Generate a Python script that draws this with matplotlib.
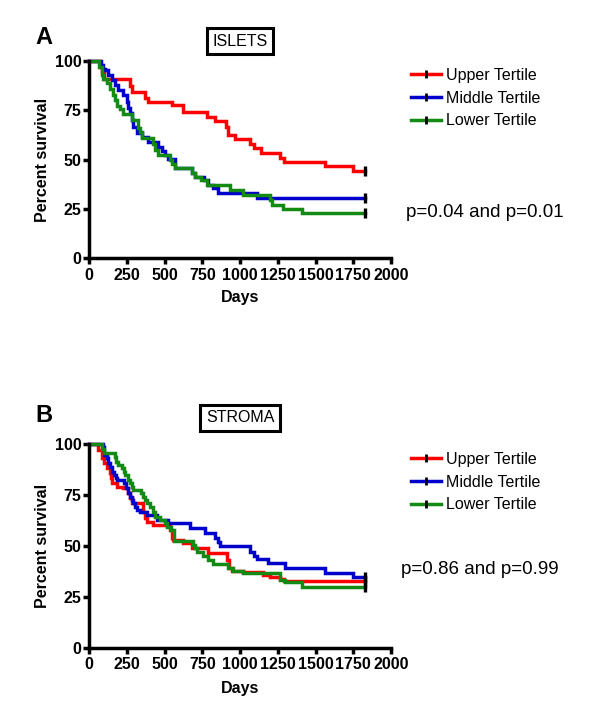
import matplotlib
matplotlib.use('Agg')
import matplotlib.pyplot as plt
from matplotlib.lines import Line2D

plt.rcParams['font.family'] = ['Liberation Sans', 'DejaVu Sans']

# Kaplan-Meier steps: day of each drop and survival (%) after it
FOLLOW_UP = 1825
labels = ['Upper Tertile', 'Middle Tertile', 'Lower Tertile']
colors = ['#ff0000', '#0000cc', '#138a13']

# A: islets
islets_upper_t = [0, 72, 85, 100, 268, 283, 370, 392, 545, 624, 778, 834, 905, 920, 966,
                  1066, 1095, 1140, 1264, 1290, 1563, 1747]
islets_upper_s = [100, 97, 94, 91, 87.5, 84.4, 81.5, 79.4, 77.7, 74.3, 71.8, 69.8, 66.5, 62.5, 60.6,
                  58, 55.7, 53.3, 51, 49, 46.8, 44.2]
islets_middle_t = [0, 75, 90, 104, 126, 148, 170, 192, 226, 248, 259, 270, 281, 292, 314, 347,
                   390, 455, 480, 505, 520, 568, 680, 700, 760, 790, 820, 850, 1110]
islets_middle_s = [100, 98, 96, 95.4, 92.9, 90.4, 87.8, 85.3, 82.8, 79.4, 76, 73.5, 70.1, 66.7, 63.4, 61.6,
                   59.1, 56.6, 54.5, 52.4, 50.3, 45.8, 43.1, 41.4, 39.7, 37.2, 35.5, 32.9, 30.4]
islets_lower_t = [0, 65, 82, 93, 115, 137, 155, 170, 186, 203, 225, 281, 325, 335, 347, 420, 435,
                  457, 535, 550, 568, 680, 700, 740, 780, 935, 1021, 1198, 1210, 1287, 1408]
islets_lower_s = [100, 97, 93, 91, 89, 86, 83, 80, 77, 75.5, 73, 70, 66, 64, 61, 58, 55,
                  52.5, 50, 48, 45.8, 43.1, 41.4, 39.7, 37.2, 34.6, 32.1, 29.5, 27, 24.8, 22.8]

# B: stroma
stroma_upper_t = [0, 60, 84, 95, 115, 137, 145, 150, 181, 225, 258, 270, 285, 358, 370, 380, 424,
                  535, 545, 555, 623, 680, 789, 912, 925, 945, 1021, 1154, 1200, 1264, 1290]
stroma_upper_s = [100, 97.2, 93.5, 90.6, 88.2, 85.9, 83.4, 81.1, 79.2, 78.4, 76, 73.5, 71, 66.7, 63.8, 62, 60.3,
                  57.9, 54, 53, 51.4, 49, 46.7, 43, 39, 37.9, 37.4, 35.8, 34.9, 33.6, 32.8]
stroma_middle_t = [0, 91, 100, 115, 125, 137, 150, 165, 175, 181, 230, 245, 258, 270, 285, 292, 305,
                   314, 336, 380, 448, 522, 668, 767, 835, 850, 867, 1066, 1090, 1110, 1186, 1298,
                   1563, 1750]
stroma_middle_s = [100, 98.6, 94.8, 93.3, 90.6, 88.8, 86.4, 84.9, 83.4, 82.4, 81, 78.5, 75.9, 74.1, 72.6, 71, 69.2,
                   67.7, 66.9, 65.2, 62.8, 61.2, 58.7, 56.5, 54, 52, 50, 47.2, 45, 43.5, 41.5, 39.0,
                   36.9, 34.9]
stroma_lower_t = [0, 84, 100, 170, 180, 192, 215, 228, 237, 255, 270, 282, 292, 340, 355, 369, 385,
                  403, 420, 436, 470, 500, 515, 540, 560, 688, 700, 713, 755, 789, 822, 922, 950,
                  1021, 1264, 1298, 1408]
stroma_lower_s = [100, 97.5, 95.6, 93.8, 91.3, 89.8, 88.3, 86.4, 84.9, 82.4, 81, 79, 77.5, 75.9, 74.1, 72.6, 71,
                  69.2, 66.7, 64.4, 62.8, 61.2, 59.5, 57.9, 52.5, 50.5, 49, 47.2, 45.1, 43.1, 41, 39.2, 37.9,
                  36.9, 33.3, 32.1, 29.7]

panels = [
    ('A', 'ISLETS', 'p=0.04 and p=0.01',
     [(islets_upper_t, islets_upper_s), (islets_middle_t, islets_middle_s), (islets_lower_t, islets_lower_s)]),
    ('B', 'STROMA', 'p=0.86 and p=0.99',
     [(stroma_upper_t, stroma_upper_s), (stroma_middle_t, stroma_middle_s), (stroma_lower_t, stroma_lower_s)]),
]

W, H = 600, 710
fig = plt.figure(figsize=(W / 100, H / 100), dpi=100)


def fx(x):
    return x / W


def fy(y):
    return 1 - y / H


# pixel boxes of each panel: (top, bottom) of axes, plus y of extra texts
layout = [
    dict(top=61, bottom=258.3, letter_y=37, box_y=41, leg_y=68, p_x=406, p_y=212),
    dict(top=444.3, bottom=647.7, letter_y=416, box_y=418, leg_y=452, p_x=401, p_y=570),
]
left, right = 89.3, 391

for (letter, title, ptext, curves), L in zip(panels, layout):
    ax = fig.add_axes([fx(left), fy(L['bottom']), (right - left) / W, (L['bottom'] - L['top']) / H])
    for (t, s), c in zip(curves, colors):
        ax.step(t + [FOLLOW_UP], s + [s[-1]], where='post', color=c, lw=2.5,
                solid_joinstyle='miter', clip_on=False)
    for (t, s), c in zip(curves, colors):
        ax.plot([FOLLOW_UP], [s[-1]], marker='|', color='black', ms=7, mew=2.4, clip_on=False)

    ax.set_xlim(0, 2000)
    ax.set_ylim(0, 100)
    ax.set_xticks(range(0, 2001, 250))
    ax.set_yticks([0, 25, 50, 75, 100])
    for sp in ['top', 'right']:
        ax.spines[sp].set_visible(False)
    for sp in ['left', 'bottom']:
        ax.spines[sp].set_linewidth(2.5)
    ax.tick_params(axis='both', direction='out', length=4.5, width=2.5, labelsize=11.5)
    ax.tick_params(axis='y', pad=1)
    ax.tick_params(axis='x', pad=2.5)
    for lab in ax.get_xticklabels() + ax.get_yticklabels():
        lab.set_fontweight('bold')

    ax.set_ylabel('Percent survival', fontsize=11.5, fontweight='bold', va='center')
    ax.yaxis.set_label_coords(-0.156, 0.5)
    ax.set_xlabel('Days', fontsize=11.5, fontweight='bold', va='center')
    ax.xaxis.set_label_coords(0.5, -0.2)

    handles = [Line2D([], [], color=c, lw=2.5, marker='|', mec='black', ms=6, mew=2) for c in colors]
    ax.legend(handles, labels, loc='upper left', bbox_to_anchor=(fx(411), fy(L['leg_y'])),
              bbox_transform=fig.transFigure, frameon=False, fontsize=11.5, handlelength=1.85,
              handletextpad=0.35, labelspacing=0.48, borderaxespad=0, borderpad=0, numpoints=1)

    fig.text(fx(44), fy(L['letter_y']), letter, fontsize=17, fontweight='bold', ha='center', va='center')
    fig.text(fx(240), fy(L['box_y']), title, fontsize=11.5, ha='center', va='center',
             bbox=dict(boxstyle='square,pad=0.35', fc='white', ec='black', lw=2.2))
    fig.text(fx(L['p_x']), fy(L['p_y']), ptext, fontsize=13.5, ha='left', va='center')

fig.savefig('out.png', dpi=100)
